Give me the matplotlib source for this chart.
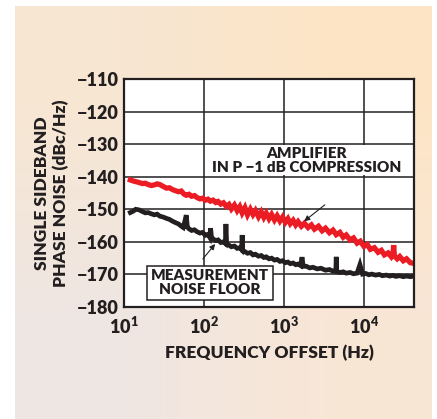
import matplotlib
matplotlib.use('Agg')
import matplotlib.pyplot as plt
import numpy as np

# amplifier in P-1dB compression (red)
red_f = [12, 13, 14, 15.5, 17, 18.5, 20, 22, 24, 26, 28, 31, 34, 37, 40, 44, 48, 52,
         56, 60, 65, 70, 76, 82, 89, 96, 104, 112, 120, 130, 140, 150, 162, 175, 190,
         205, 220, 240, 260, 280, 300, 325, 350, 380, 410, 440, 480, 520, 560, 600,
         650, 700, 760, 820, 890, 960, 1040, 1120, 1200, 1300, 1400, 1500, 1650, 1800,
         2000, 2200, 2400, 2700, 3000, 3300, 3700, 4100, 4500, 5000, 5500, 6000, 6700,
         7400, 8200, 9000, 10000, 11000, 12000, 13500, 15000, 16500, 18000, 20000,
         22000, 23000, 23500, 24000, 26000, 28000, 31000, 34000, 38000, 42000]
red_db = [-141.0, -141.3, -141.5, -141.8, -142.1, -142.0, -142.4, -142.7, -142.5,
          -142.2, -142.4, -143.0, -143.5, -143.4, -143.9, -144.3, -144.6, -144.4,
          -145.3, -145.7, -145.4, -146.0, -145.8, -146.4, -146.8, -146.6, -147.2,
          -146.9, -147.5, -147.2, -147.9, -147.6, -148.4, -148.0, -149.1, -148.5,
          -149.9, -148.7, -150.4, -149.2, -151.1, -149.5, -151.7, -150.0, -151.6,
          -150.4, -152.3, -150.8, -152.5, -151.2, -152.9, -151.6, -153.3, -152.0,
          -153.6, -152.4, -154.0, -152.9, -154.4, -153.4, -154.8, -153.8, -155.2,
          -154.3, -155.6, -154.8, -156.1, -155.2, -156.6, -155.8, -157.2, -156.4,
          -157.8, -157.1, -158.6, -157.9, -159.4, -158.8, -160.4, -159.8, -161.4,
          -160.8, -162.3, -161.8, -163.2, -162.6, -164.0, -163.4, -164.6, -163.9,
          -161.0, -164.3, -165.2, -164.5, -165.8, -165.2, -166.4, -166.6]

# measurement noise floor (black)
blk_f = [12, 13, 14, 15.5, 17, 18.5, 20, 22, 24, 26, 28, 31, 34, 37, 40, 44, 48, 52,
         55, 58, 60, 62, 65, 70, 76, 82, 89, 96, 104, 112, 118, 121, 124, 130, 140,
         150, 162, 175, 185, 188, 192, 205, 220, 240, 260, 280, 295, 300, 305, 325,
         350, 380, 410, 440, 480, 520, 560, 600, 650, 700, 760, 820, 890, 960, 1040,
         1120, 1200, 1300, 1400, 1500, 1620, 1680, 1740, 1900, 2100, 2300, 2600, 2900,
         3300, 3700, 4100, 4450, 4500, 4550, 5000, 5500, 6000, 6700, 7400, 8200, 8900,
         9600, 10500, 11500, 12500, 14000, 15500, 17000, 19000, 21000, 23000, 25000,
         28000, 31000, 34000, 38000, 42000]
blk_db = [-151.0, -150.6, -150.0, -150.2, -150.7, -151.1, -151.0, -151.4, -151.7,
          -151.5, -152.1, -152.4, -152.8, -153.1, -153.6, -154.1, -154.5, -155.2,
          -155.6, -153.4, -151.8, -155.5, -156.0, -156.5, -156.3, -156.9, -157.3,
          -157.1, -158.0, -157.7, -158.6, -155.8, -158.6, -159.1, -159.6, -159.4,
          -160.2, -160.0, -160.5, -154.5, -160.7, -161.0, -161.5, -161.3, -162.0,
          -161.8, -162.4, -157.9, -162.7, -163.0, -163.5, -163.3, -164.0, -163.8,
          -164.4, -164.2, -164.8, -164.6, -165.2, -165.0, -165.6, -165.4, -166.0,
          -165.8, -166.4, -166.2, -166.7, -166.5, -167.0, -166.8, -167.3, -164.7,
          -167.5, -167.5, -168.0, -167.8, -168.3, -168.1, -168.7, -168.5, -169.0,
          -168.9, -164.6, -169.1, -169.4, -169.2, -169.6, -169.4, -169.8, -169.6,
          -167.0, -169.9, -169.7, -170.1, -169.9, -170.2, -170.0, -170.4, -170.2,
          -170.5, -170.3, -170.6, -170.4, -170.7, -170.5, -170.7, -170.5]

yticks = [-110, -120, -130, -140, -150, -160, -170, -180]
xticks = [10, 100, 1000, 10000]
xticklabels = [r'$10^{1}$', r'$10^{2}$', r'$10^{3}$', r'$10^{4}$']

plt.rcParams['font.family'] = ['Lato', 'DejaVu Sans']
plt.rcParams['font.weight'] = 'heavy'
plt.rcParams['mathtext.fontset'] = 'custom'
plt.rcParams['mathtext.rm'] = 'Lato:heavy'
plt.rcParams['mathtext.it'] = 'Lato:heavy'
plt.rcParams['mathtext.bf'] = 'Lato:heavy'

ink = '#231f20'

fig = plt.figure(figsize=(4.37, 4.19), dpi=100)
fig.patch.set_facecolor('white')

# peach gradient backdrop
bg = fig.add_axes([15 / 437, 0, 417 / 437, 413 / 419])
grad = np.array([[[0.969, 0.902, 0.827], [0.992, 0.898, 0.776]],
                 [[0.937, 0.902, 0.890], [0.976, 0.902, 0.839]]])
bg.imshow(grad, aspect='auto', interpolation='bilinear', extent=[0, 1, 0, 1])
bg.axis('off')

ax = fig.add_axes([124 / 437, 1 - 307 / 419, 290 / 437, 228 / 419])
ax.set_facecolor('white')
ax.plot(red_f, red_db, color='#ec1c24', linewidth=3.8, solid_joinstyle='miter')
ax.plot(blk_f, blk_db, color=ink, linewidth=3.4, solid_joinstyle='miter')

ax.set_xscale('log')
ax.set_xlim(10, 42200)
ax.set_ylim(-180, -110)
ax.set_xticks(xticks)
ax.set_xticklabels(xticklabels)
ax.set_yticks(yticks)
ax.set_yticklabels([f'\u2212{abs(v)}' for v in yticks], fontweight='heavy')
ax.minorticks_off()
ax.tick_params(length=0, labelsize=13, colors=ink)
ax.tick_params(axis='x', pad=6)
ax.tick_params(axis='y', pad=4)
ax.grid(True, color=ink, linewidth=1.1)
ax.set_axisbelow(True)
for s in ax.spines.values():
    s.set_linewidth(1.6)
    s.set_color(ink)

ax.set_xlabel('FREQUENCY OFFSET (Hz)', fontsize=12.5, fontweight='heavy',
              color=ink, labelpad=6)
ax.set_ylabel('SINGLE SIDEBAND\nPHASE NOISE (dBc/Hz)', fontsize=12.5,
              fontweight='heavy', color=ink, labelpad=5, linespacing=1.2)

ax.text(0.63, 0.643, 'AMPLIFIER\nIN P \u22121 dB COMPRESSION', transform=ax.transAxes,
        ha='center', va='center', fontsize=11, fontweight='heavy', color=ink,
        linespacing=1.1, bbox=dict(facecolor='white', edgecolor='none', pad=1))
ax.annotate('', xy=(1680, -154.2), xytext=(3450, -148.1),
            arrowprops=dict(arrowstyle='-|>', color=ink, lw=0.8, mutation_scale=8))

ax.text(0.297, 0.107, 'MEASUREMENT\nNOISE FLOOR', transform=ax.transAxes,
        ha='center', va='center', fontsize=11, fontweight='heavy', color=ink,
        linespacing=1.05,
        bbox=dict(facecolor='white', edgecolor=ink, linewidth=1.1,
                  boxstyle='square,pad=0.25'))
ax.annotate('', xy=(145, -160.0), xytext=(92, -165.9),
            arrowprops=dict(arrowstyle='-|>', color=ink, lw=0.8, mutation_scale=8))

plt.savefig('out.png', dpi=100)
